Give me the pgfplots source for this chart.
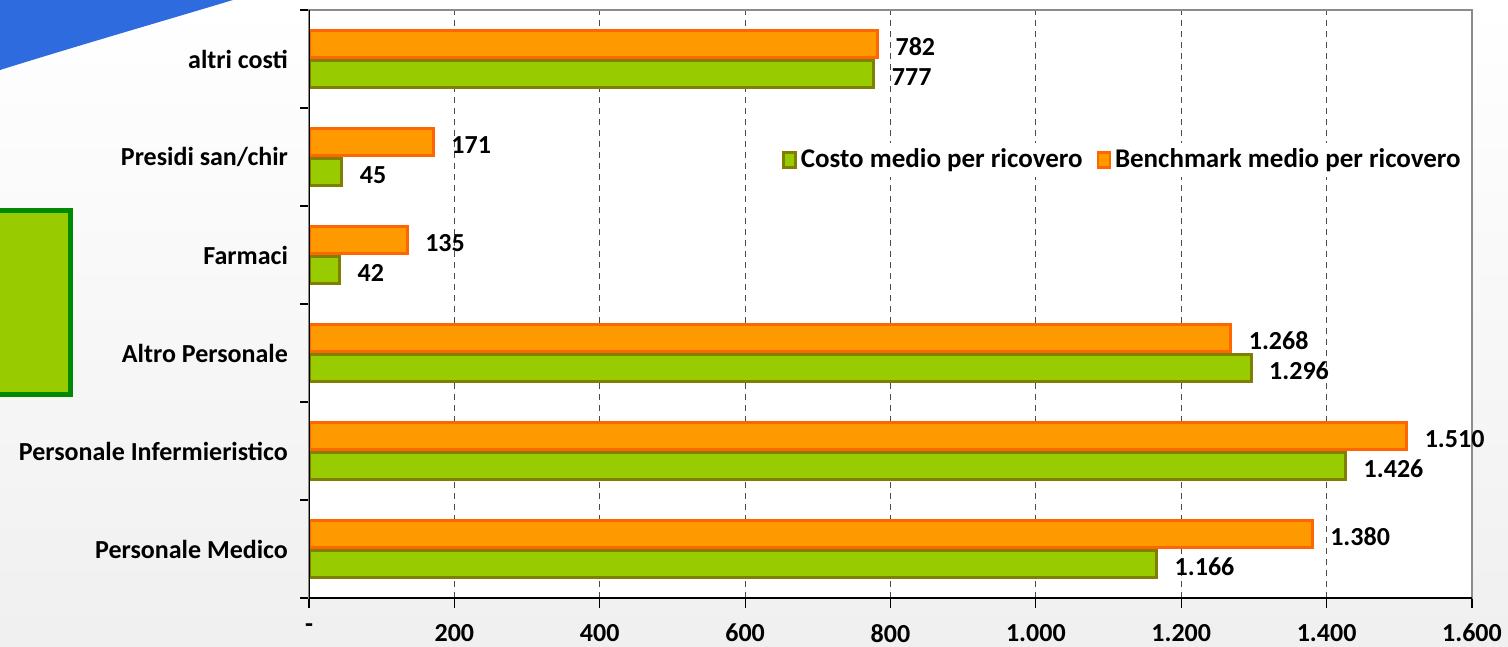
\documentclass[border=0pt]{standalone}
\usepackage{fontspec}
\setmainfont{Carlito}
\usepackage{pgfplots}
\pgfplotsset{compat=1.18}
\definecolor{cgreen}{HTML}{99CC00}
\definecolor{cgreenb}{HTML}{7F7F00}
\definecolor{corange}{HTML}{FF9900}
\definecolor{corangeb}{HTML}{FF6600}
\definecolor{swoosh}{HTML}{2D6BDF}
\definecolor{boxgreen}{HTML}{008A00}

\begin{document}
\begin{tikzpicture}[x=1pt,y=1pt]
\useasboundingbox (0,0) rectangle (754,323.5);
\shade[top color=white, bottom color=black!6] (0,0) rectangle (754,323.5);
\fill[swoosh] (0,288.5) .. controls (40,301) and (85,314) .. (116.5,323.5) -- (0,323.5) -- cycle;
\draw[boxgreen, line width=2.5pt, fill=cgreen] (-3,126.25) rectangle (35.25,218.25);
\begin{axis}[
    scale only axis,
    width=581.5pt, height=294pt,
    at={(154.5pt,24.5pt)}, anchor=south west,
    axis background/.style={fill=white},
    xbar,
    bar width=13.5pt,
    xmin=0, xmax=1600,
    ymin=-0.5, ymax=5.5,
    xtick={0,200,...,1600},
    xticklabels={-,200,400,600,800,1.000,1.200,1.400,1.600},
    ytick={0,...,5},
    yticklabels={Personale Medico,Personale Infermieristico,Altro Personale,Farmaci,Presidi san/chir,altri costi},
    minor ytick={-0.5,0.5,...,5.5},
    xtick pos=bottom, ytick pos=left,
    tick align=outside,
    major tick length=5pt, minor tick length=4.5pt,
    major y tick style={draw=none},
    minor y tick style={black, line width=0.6pt},
    major x tick style={black, line width=0.6pt},
    xmajorgrids,
    major x grid style={black!70, line width=0.5pt, dash pattern=on 3pt off 2.5pt},
    axis line style={draw=black!45, line width=0.8pt},
    every tick label/.append style={font=\bfseries\fontsize{13}{15}\selectfont, text=black},
    yticklabel style={xshift=-2pt},
    xticklabel style={yshift=-4.5pt},
    nodes near coords,
    point meta=explicit symbolic,
    nodes near coords style={font=\bfseries\fontsize{13}{15}\selectfont, anchor=west, xshift=5pt, yshift=-1.5pt, text=black},
    legend columns=2,
    legend style={at={(0.405,0.745)}, anchor=west, draw=none, fill=white,
        font=\bfseries\fontsize{13.5}{15}\selectfont,
        /tikz/every even column/.append style={column sep=5pt},
        inner sep=1pt},
    legend image code/.code={\draw[#1, line width=1.2pt] (0pt,-3.75pt) rectangle (6pt,3.75pt);},
]
\addplot[fill=cgreen, draw=cgreenb, line width=1.5pt, bar shift=-7.5pt]
    coordinates {(1166,0) [1.166] (1426,1) [1.426] (1296,2) [1.296] (42,3) [42] (45,4) [45] (777,5) [777]};
\addplot[fill=corange, draw=corangeb, line width=1.5pt, bar shift=7.5pt]
    coordinates {(1380,0) [1.380] (1510,1) [1.510] (1268,2) [1.268] (135,3) [135] (171,4) [171] (782,5) [782]};
\legend{Costo medio per ricovero, Benchmark medio per ricovero}
\draw[black, line width=0.8pt] (rel axis cs:0,1) -- (rel axis cs:0,0) -- (rel axis cs:1,0);
\end{axis}
\end{tikzpicture}
\end{document}
